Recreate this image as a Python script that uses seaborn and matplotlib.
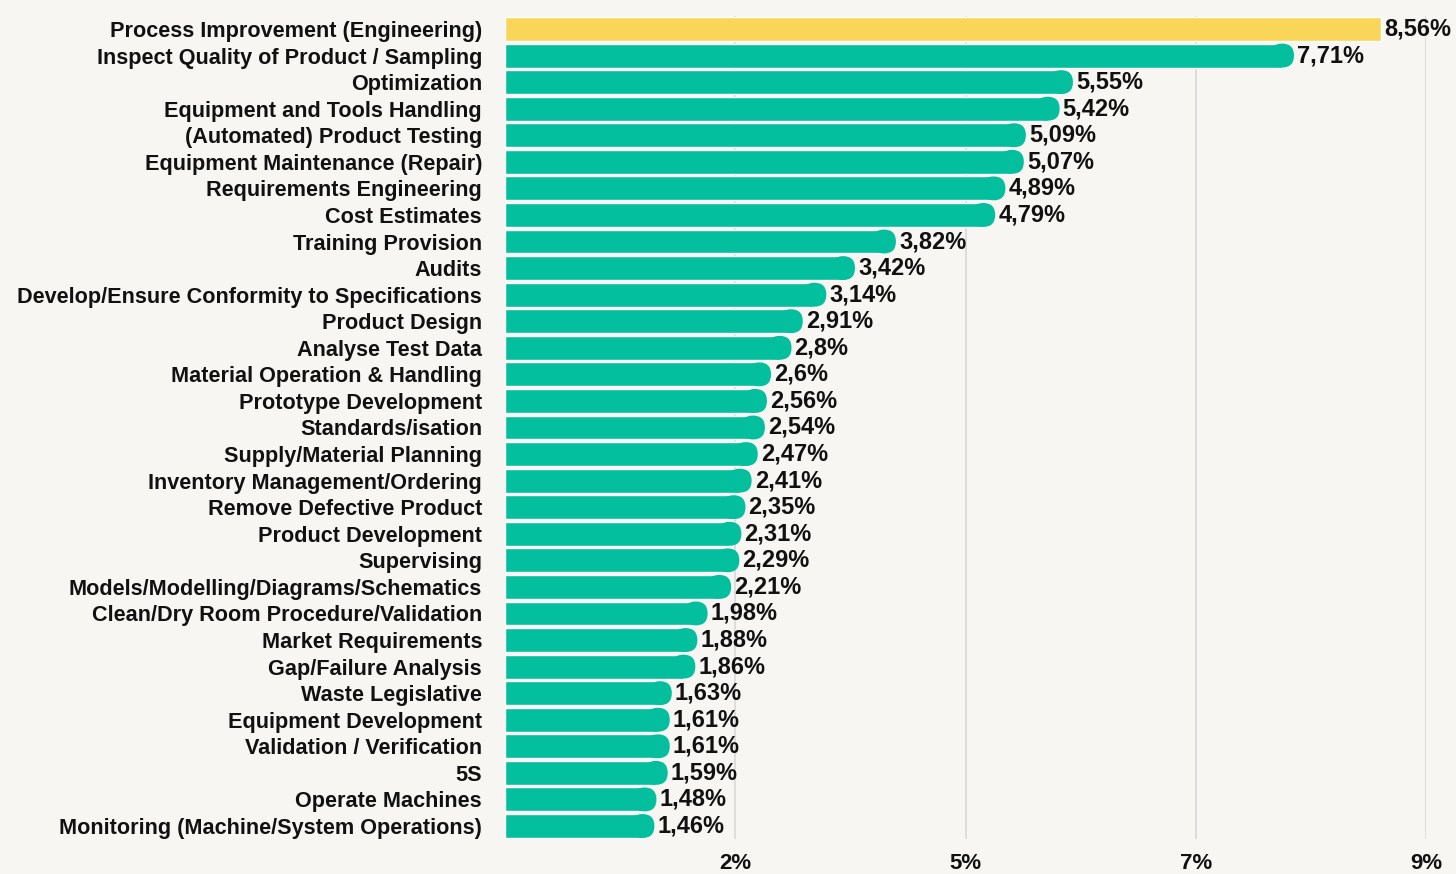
import numpy as np
import pandas as pd
import seaborn as sns
import matplotlib.pyplot as plt
from matplotlib.patches import FancyBboxPatch

tasks = [
    "Process Improvement (Engineering)",
    "Inspect Quality of Product / Sampling",
    "Optimization",
    "Equipment and Tools Handling",
    "(Automated) Product Testing",
    "Equipment Maintenance (Repair)",
    "Requirements Engineering",
    "Cost Estimates",
    "Training Provision",
    "Audits",
    "Develop/Ensure Conformity to Specifications",
    "Product Design",
    "Analyse Test Data",
    "Material Operation & Handling",
    "Prototype Development",
    "Standards/isation",
    "Supply/Material Planning",
    "Inventory Management/Ordering",
    "Remove Defective Product",
    "Product Development",
    "Supervising",
    "Models/Modelling/Diagrams/Schematics",
    "Clean/Dry Room Procedure/Validation",
    "Market Requirements",
    "Gap/Failure Analysis",
    "Waste Legislative",
    "Equipment Development",
    "Validation / Verification",
    "5S",
    "Operate Machines",
    "Monitoring (Machine/System Operations)",
]
shares = [8.56, 7.71, 5.55, 5.42, 5.09, 5.07, 4.89, 4.79, 3.82, 3.42, 3.14, 2.91,
          2.80, 2.60, 2.56, 2.54, 2.47, 2.41, 2.35, 2.31, 2.29, 2.21, 1.98, 1.88,
          1.86, 1.63, 1.61, 1.61, 1.59, 1.48, 1.46]
tick_vals = [2.25, 4.5, 6.75, 9.0]
tick_labels = ["2%", "5%", "7%", "9%"]

bg = "#f7f6f2"
teal = "#03bf9d"
yellow = "#f9d65a"

df = pd.DataFrame({"task": tasks, "share": shares})

sns.set_theme(style="white")
plt.rcParams['font.family'] = ['Liberation Sans', 'DejaVu Sans']
plt.rcParams['font.weight'] = 'bold'

fig = plt.figure(figsize=(14.56, 8.74), dpi=100, facecolor=bg)
ax = fig.add_axes([505 / 1456, 1 - 839.3 / 874, (1426 - 505) / 1456, (839.3 - 15.7) / 874])
ax.set_facecolor(bg)

pal = {t: (yellow if i == 0 else teal) for i, t in enumerate(tasks)}
sns.barplot(data=df, x="share", y="task", hue="task", palette=pal, legend=False,
            width=0.9, saturation=1, ax=ax, zorder=2)

ax.set_xlim(0, 9.0)
ax.set_ylim(len(tasks) - 0.5, -0.5)
ax.set_xticks(tick_vals)
ax.set_xticklabels(tick_labels)
ax.xaxis.grid(True, color="#d9d9d9", lw=1.2, zorder=0)
ax.set_axisbelow(True)
ax.tick_params(axis="x", length=0, pad=10, labelsize=16)
ax.tick_params(axis="y", length=0, pad=16.5, labelsize=15.6)
for lab in ax.get_xticklabels() + ax.get_yticklabels():
    lab.set_fontweight("bold")
    lab.set_color("#111111")
ax.set_xlabel("")
ax.set_ylabel("")
sns.despine(ax=ax, left=True, bottom=True)

# rounded right ends on the teal bars
bb = ax.get_window_extent()
px_x = bb.width / 9.0
px_y = bb.height / len(tasks)
for i, p in enumerate(ax.patches[:len(tasks)]):
    if i == 0:
        continue
    w = p.get_width()
    y = p.get_y()
    h = p.get_height()
    ry = h / 2
    rx = ry * px_y / px_x
    p.set_width(w - rx)
    cap = FancyBboxPatch((w - 2 * rx, y), 2 * rx, h,
                         boxstyle=f"round,pad=0,rounding_size={rx}",
                         mutation_aspect=ry / rx, facecolor=teal, lw=0, zorder=2)
    ax.add_patch(cap)

for i, v in enumerate(shares):
    ax.text(v + 0.03, i, f"{v:g}".replace(".", ",") + "%", va="center", ha="left",
            fontsize=17, fontweight="bold", color="#111111", clip_on=False)

fig.savefig("out.png", dpi=100, facecolor=bg)
